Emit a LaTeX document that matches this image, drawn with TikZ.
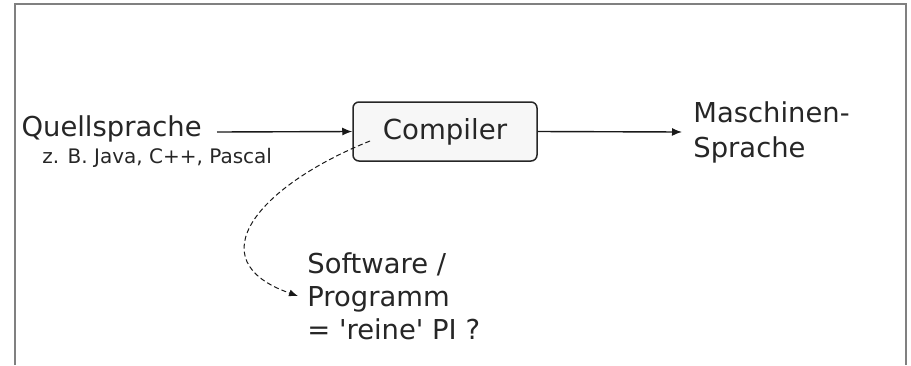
\documentclass[tikz,border=0pt]{standalone}
\usepackage{fontspec}
\setmainfont{DejaVu Sans}
\usetikzlibrary{arrows.meta}

\begin{document}
\begin{tikzpicture}[x=0.5pt,y=-0.5pt,
  txt/.style={inner ysep=0pt,text=black!85,font=\fontsize{13.7}{17.5}\selectfont},
  note/.style={inner sep=0pt,text=black!85,font=\fontsize{10}{12}\selectfont},
  box/.style={draw=black!85,line width=0.75pt,fill=black!3,rounded corners=3pt,
              minimum width=92pt,minimum height=29.5pt,inner sep=0pt,
              text=black!85,font=\fontsize{13.8}{17}\selectfont},
  arr/.style={-{Latex[length=5pt,width=4pt]},line width=0.7pt,draw=black!90},
  darr/.style={-{Latex[length=4.5pt,width=3.5pt]},line width=0.5pt,draw=black!90,
               dash pattern=on 2.5pt off 1.5pt}]

  \useasboundingbox (0,0) rectangle (911,365);

  % frame (open at the bottom)
  \draw[gray,line width=1pt] (15,365) -- (15,4) -- (906,4) -- (906,365);

  % nodes
  \node[box] (cmp) at (445,131.5) {Compiler};
  \node[txt,anchor=east,inner xsep=7.5pt,text height=8.5pt,text depth=4pt]
        (src) at (217,132) {Quellsprache};
  \node[note,anchor=base west] (ex) at (42,163) {z. B. Java, C++, Pascal};
  \node[txt,anchor=west,inner xsep=5.5pt,align=left] (tgt) at (682,132)
        {Maschinen-\\Sprache};
  \node[txt,anchor=west,inner xsep=4.5pt,align=left,
        font=\fontsize{13.7}{16.5}\selectfont] (prog) at (298,296)
        {Software /\\Programm\\= \textquotesingle reine\textquotesingle{} PI ?};

  % connectors
  \coordinate (cstart) at ([shift={(-75,9.5)}]cmp.center);
  \draw[arr] (src.east) -- (cmp.west);
  \draw[arr] (cmp.east) -- (tgt.west);
  \draw[darr] (cstart) .. controls (260,185) and (195,260) .. (prog.west);

\end{tikzpicture}
\end{document}
